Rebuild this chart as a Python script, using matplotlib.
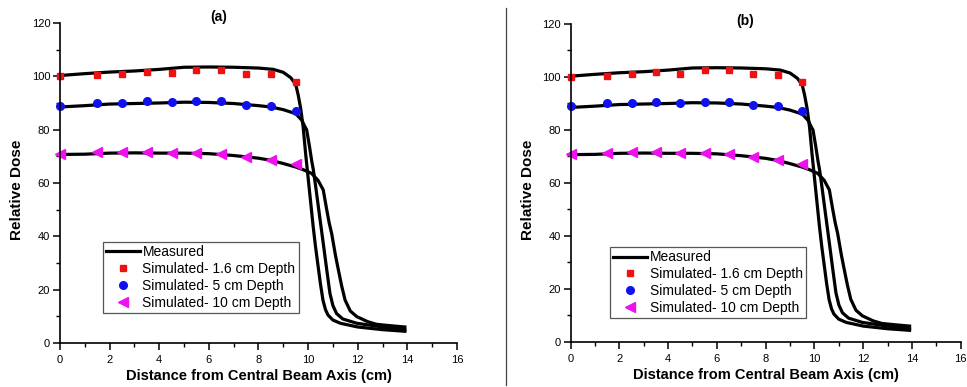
import matplotlib
matplotlib.use('Agg')
import matplotlib.pyplot as plt
from matplotlib.lines import Line2D
from matplotlib.ticker import MultipleLocator

plt.rcParams['font.family'] = ['Liberation Sans', 'DejaVu Sans']

# simulated points (same for both panels)
sim_x = [0, 1.5, 2.5, 3.5, 4.5, 5.5, 6.5, 7.5, 8.5, 9.5]
sim_16 = [100, 100.5, 101, 101.8, 101.3, 102.5, 102.5, 101, 100.8, 98]
sim_5 = [89, 90, 90, 90.7, 90.3, 90.7, 90.7, 89.3, 89, 87]
sim_10 = [71, 71.5, 71.7, 71.8, 71.3, 71.3, 71, 69.7, 68.5, 67]

# measured profiles
meas16_x = [0, 1, 2, 3, 4, 5, 6, 7, 8, 8.6, 9, 9.3, 9.5, 9.6, 9.7, 9.8, 9.9, 10.0,
            10.1, 10.2, 10.3, 10.4, 10.5, 10.6, 10.7, 10.8, 11.0, 11.3, 12, 13, 13.9]
meas16_y = [100.3, 101, 101.6, 102, 102.6, 103.4, 103.5, 103.4, 103.1, 102.6, 101.5, 99.5,
            97, 93, 88, 81, 71, 62, 53, 44, 36, 29, 22, 16, 12.5, 10.5, 8.6, 7.4, 6, 5, 4.4]
meas5_x = [0, 1, 2, 3, 4, 5, 6, 7, 8, 8.5, 9, 9.5, 9.6, 9.75, 9.85, 9.94, 10.05, 10.15,
           10.21, 10.3, 10.4, 10.5, 10.61, 10.75, 10.88, 11.0, 11.15, 11.4, 11.96, 13, 13.9]
meas5_y = [88.5, 89, 89.6, 89.8, 90, 90.3, 90.2, 89.8, 89, 88.5, 87.5, 86, 85, 83.5, 81.5,
           80, 74, 68, 65, 59, 52, 45, 37.4, 27.5, 18.6, 14, 11, 9, 7.4, 6, 5]
meas10_x = [0, 1, 2, 3, 4, 5, 6, 7, 8, 8.5, 9, 9.5, 9.8, 10.14, 10.4, 10.61, 10.75, 10.85,
            10.95, 11.1, 11.22, 11.35, 11.49, 11.7, 11.96, 12.4, 12.76, 13.3, 13.9]
meas10_y = [70.7, 70.8, 71.2, 71.3, 71.2, 71.2, 71, 70.3, 69.3, 68.5, 67.3, 66, 65, 63.6,
            61, 57.4, 50, 45, 41, 33, 27.4, 21.5, 16.1, 12, 9.9, 8, 7, 6.5, 6]

fig = plt.figure(figsize=(9.67, 3.87), dpi=100)
ax_a = fig.add_axes([0.062, 0.1137, 0.4106, 0.8269])
ax_b = fig.add_axes([0.590, 0.1163, 0.4036, 0.8217])


def draw_panel(ax, title, title_pos, leg_anchor):
    lm, = ax.plot(meas16_x, meas16_y, '-', color='black', lw=2.3)
    ax.plot(meas5_x, meas5_y, '-', color='black', lw=2.3)
    ax.plot(meas10_x, meas10_y, '-', color='black', lw=2.3)
    s1, = ax.plot(sim_x, sim_16, 's', color='#ee1111', ms=5, ls='none', clip_on=False)
    s2, = ax.plot(sim_x, sim_5, 'o', color='#1111ee', ms=5.5, ls='none', clip_on=False)
    s3, = ax.plot(sim_x, sim_10, '<', color='#ee11ee', ms=6.5, ls='none', clip_on=False)

    ax.set_xlim(0, 16)
    ax.set_ylim(0, 120)
    ax.xaxis.set_major_locator(MultipleLocator(2))
    ax.xaxis.set_minor_locator(MultipleLocator(1))
    ax.yaxis.set_major_locator(MultipleLocator(20))
    ax.yaxis.set_minor_locator(MultipleLocator(10))
    ax.spines['top'].set_visible(False)
    ax.spines['right'].set_visible(False)
    for s in ['left', 'bottom']:
        ax.spines[s].set_linewidth(1.2)
    ax.tick_params(which='major', direction='out', length=5, width=1.1, labelsize=8, pad=2)
    ax.tick_params(axis='x', which='major', pad=3.5)
    ax.tick_params(which='minor', direction='out', length=3, width=1)
    ax.set_xlabel('Distance from Central Beam Axis (cm)', fontsize=10.5, fontweight='bold', labelpad=3)
    ax.set_ylabel('Relative Dose', fontsize=11, fontweight='bold')
    ax.yaxis.set_label_coords(-0.09, 0.48)
    ax.text(title_pos[0], title_pos[1], title, transform=ax.transAxes, fontsize=10,
            fontweight='bold', ha='center', va='center')

    leg = ax.legend([lm, s1, s2, s3],
                    ['Measured', 'Simulated- 1.6 cm Depth', 'Simulated- 5 cm Depth',
                     'Simulated- 10 cm Depth'],
                    loc='upper left', bbox_to_anchor=leg_anchor, fontsize=10,
                    fancybox=False, framealpha=1, edgecolor='#555555',
                    handlelength=2.4, handletextpad=0.2, labelspacing=0.2,
                    borderpad=0.25, borderaxespad=0)
    leg.get_frame().set_linewidth(0.9)


draw_panel(ax_a, '(a)', (0.40, 1.019), (0.108, 0.316))
draw_panel(ax_b, '(b)', (0.447, 1.009), (0.101, 0.299))

# separator between panels
fig.add_artist(Line2D([506 / 967, 506 / 967], [1 - 8 / 387, 1 - 385 / 387],
                      color='#444444', lw=0.9))

fig.savefig('out.png', dpi=100)
